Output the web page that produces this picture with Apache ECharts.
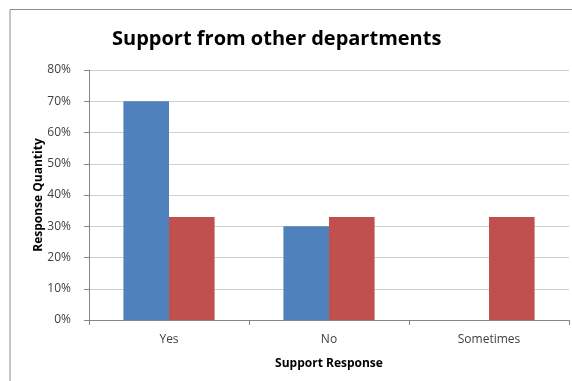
<!DOCTYPE html>
<html>
<head>
<meta charset="utf-8">
<script src="https://cdn.jsdelivr.net/npm/echarts@6/dist/echarts.min.js"></script>
<style>
  html, body { margin: 0; padding: 0; background: #fff; }
  #chart { width: 572px; height: 381px; }
</style>
</head>
<body>
<div id="chart"></div>
<script>
// data
var categories = ['Yes', 'No', 'Sometimes'];
var seriesA = [70, 30, 0];
var seriesB = [33, 33, 33];
var yTicks = [0, 10, 20, 30, 40, 50, 60, 70, 80];

var myChart = echarts.init(document.getElementById('chart'));
var font = 'Open Sans, Liberation Sans, sans-serif';

var option = {
  backgroundColor: '#fff',
  animation: false,
  title: {
    text: 'Support from other departments',
    left: 107,
    top: 24,
    textStyle: { fontFamily: font, fontSize: 20, fontWeight: 'bold', color: '#000' }
  },
  graphic: [{
    type: 'polyline',
    shape: { points: [[10, 381], [10, 9.5], [572, 9.5]] },
    style: { stroke: '#8c8c8c', lineWidth: 1, fill: null }
  }],
  grid: { left: 89, right: 3, top: 70, bottom: 61 },
  xAxis: {
    type: 'category',
    data: categories,
    name: 'Support Response',
    nameLocation: 'middle',
    nameGap: 38,
    nameTextStyle: { fontFamily: font, fontSize: 12, fontWeight: 'bold', color: '#000' },
    axisLine: { lineStyle: { color: '#868686' } },
    axisTick: { show: true, length: 5, lineStyle: { color: '#868686' } },
    axisLabel: { fontFamily: font, fontSize: 12, color: '#404040', margin: 14 }
  },
  yAxis: {
    type: 'value',
    min: yTicks[0],
    max: yTicks[yTicks.length - 1],
    interval: 10,
    name: 'Response Quantity',
    nameLocation: 'middle',
    nameGap: 44,
    nameMoveOverlap: false,
    nameTextStyle: { fontFamily: font, fontSize: 12, fontWeight: 'bold', color: '#000' },
    axisLine: { show: true, lineStyle: { color: '#868686' } },
    axisTick: { show: true, length: 5, lineStyle: { color: '#868686' } },
    axisLabel: { fontFamily: font, fontSize: 12, color: '#404040', margin: 18, formatter: '{value}%' },
    splitLine: { lineStyle: { color: '#d0d0d0' } }
  },
  series: [
    {
      type: 'bar',
      data: seriesA,
      barGap: '0%',
      barCategoryGap: '43%',
      itemStyle: { color: '#4f81bd' }
    },
    {
      type: 'bar',
      data: seriesB,
      barGap: '0%',
      barCategoryGap: '43%',
      itemStyle: { color: '#c0504d' }
    }
  ]
};
myChart.setOption(option);
</script>
</body>
</html>
